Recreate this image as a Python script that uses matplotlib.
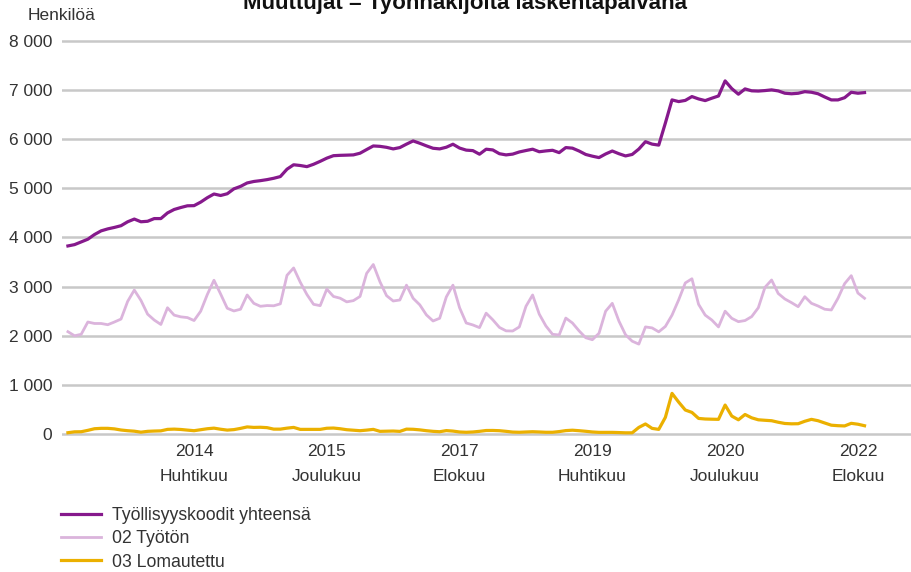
import matplotlib
matplotlib.use("Agg")
import matplotlib.pyplot as plt
import pandas as pd

plt.rcParams['font.family'] = ['Liberation Sans', 'DejaVu Sans']

# monthly values Sep 2012 - Sep 2022
start_month = "2012-09"

total = [3828, 3855, 3910, 3965, 4060, 4135, 4175, 4205, 4240, 4320,
         4375, 4320, 4330, 4385, 4385, 4500, 4570, 4610, 4645, 4648,
         4720, 4810, 4885, 4855, 4890, 4990, 5040, 5110, 5140, 5157,
         5178, 5205, 5240, 5390, 5480, 5465, 5442, 5490, 5550, 5615,
         5665, 5672, 5676, 5681, 5715, 5790, 5863, 5855, 5835, 5803,
         5830, 5900, 5965, 5918, 5865, 5816, 5803, 5837, 5898, 5820,
         5778, 5768, 5695, 5797, 5782, 5705, 5681, 5697, 5741, 5770,
         5797, 5745, 5762, 5775, 5727, 5830, 5818, 5760, 5690, 5655,
         5626, 5700, 5760, 5705, 5660, 5690, 5800, 5950, 5900, 5880,
         6330, 6800, 6766, 6790, 6868, 6820, 6786, 6835, 6880, 7187,
         7030, 6916, 7024, 6985, 6980, 6990, 7004, 6983, 6936, 6925,
         6935, 6968, 6956, 6925, 6860, 6800, 6800, 6845, 6956, 6936,
         6949]

unemployed = [2083, 2000, 2030, 2280, 2250, 2250, 2225, 2280, 2340, 2700,
              2930, 2720, 2440, 2320, 2230, 2570, 2420, 2385, 2370, 2310,
              2500, 2840, 3130, 2850, 2560, 2505, 2540, 2830, 2660, 2600,
              2615, 2610, 2650, 3230, 3380, 3090, 2840, 2640, 2613, 2950,
              2800, 2765, 2690, 2715, 2800, 3270, 3450, 3100, 2816, 2708,
              2728, 3030, 2763, 2630, 2425, 2301, 2356, 2790, 3030, 2570,
              2260, 2220, 2166, 2460, 2325, 2170, 2100, 2097, 2180, 2600,
              2830, 2440, 2200, 2030, 2016, 2360, 2260, 2100, 1960, 1920,
              2050, 2500, 2660, 2300, 2020, 1890, 1830, 2180, 2160, 2080,
              2190, 2420, 2730, 3075, 3160, 2640, 2420, 2320, 2180, 2500,
              2355, 2287, 2310, 2390, 2570, 2985, 3135, 2860, 2749, 2674,
              2592, 2795, 2661, 2606, 2540, 2525, 2763, 3060, 3223, 2870,
              2763]

laid_off = [27, 45, 47, 75, 108, 116, 116, 105, 82, 68,
            58, 38, 55, 61, 65, 95, 100, 93, 80, 68,
            88, 108, 120, 98, 80, 90, 115, 145, 135, 138,
            130, 100, 100, 120, 135, 95, 95, 95, 95, 118,
            122, 108, 88, 78, 68, 80, 95, 55, 58, 61,
            54, 100, 97, 85, 68, 55, 47, 70, 60, 42,
            36, 42, 55, 72, 73, 68, 55, 40, 36, 42,
            47, 42, 36, 36, 50, 70, 78, 68, 56, 42,
            34, 34, 34, 30, 25, 25, 135, 205, 115, 95,
            340, 828, 650, 489, 440, 318, 306, 302, 299, 590,
            366, 290, 398, 330, 290, 280, 271, 240, 215, 208,
            210, 260, 299, 271, 225, 180, 170, 165, 218, 200,
            169]

series_names = ["Työllisyyskoodit yhteensä", "02 Työtön", "03 Lomautettu"]
series_colors = ["#86198c", "#dbb4dc", "#ebb000"]

tick_months = ["2014-04", "2015-12", "2017-08", "2019-04", "2020-12", "2022-08"]
tick_labels = ["2014\nHuhtikuu", "2015\nJoulukuu", "2017\nElokuu",
               "2019\nHuhtikuu", "2020\nJoulukuu", "2022\nElokuu"]

months = pd.period_range(start_month, periods=len(total), freq="M")
idx = list(range(len(months)))
tick_pos = [months.get_loc(pd.Period(m, freq="M")) for m in tick_months]

fig = plt.figure(figsize=(9.11, 5.72), dpi=100)
ax = fig.add_axes([0.068, 0.2283, 0.932, 0.713])

ax.plot(idx, total, color=series_colors[0], lw=2.3, label=series_names[0], zorder=3)
ax.plot(idx, unemployed, color=series_colors[1], lw=2.0, label=series_names[1], zorder=3)
ax.plot(idx, laid_off, color=series_colors[2], lw=2.3, label=series_names[2], zorder=3)

ax.set_xlim(-0.9, 127)
ax.set_ylim(-150, 8150)
yt = list(range(0, 8001, 1000))
ax.set_yticks(yt)
ax.set_yticklabels([f"{v:,}".replace(",", " ") for v in yt], fontsize=12.5, color="#333333")
ax.set_xticks(tick_pos)
ax.set_xticklabels(tick_labels, fontsize=12.5, color="#333333", linespacing=1.85)
ax.tick_params(axis="both", length=0)
ax.tick_params(axis="y", pad=7)
ax.tick_params(axis="x", pad=2)
ax.yaxis.grid(True, color="#c8c8c8", lw=1.8)
ax.set_axisbelow(True)
for s in ax.spines.values():
    s.set_visible(False)

fig.text(28 / 911, 1 - 15 / 572, "Henkilöä", fontsize=12.5, color="#333333", va="center")
fig.text(465 / 911, 1 - 9 / 572, "Muuttujat = Työnhakijoita laskentapäivänä",
         fontsize=16, fontweight="bold", color="#111111", ha="center", va="baseline")

fig.legend(loc="upper left", bbox_to_anchor=(52 / 911, 1 - 498 / 572), frameon=False,
           fontsize=12.7, handlelength=2.3, handletextpad=0.6, labelspacing=0.36,
           borderpad=0, labelcolor="#333333")

fig.savefig("out.png", dpi=100)
plt.close()
